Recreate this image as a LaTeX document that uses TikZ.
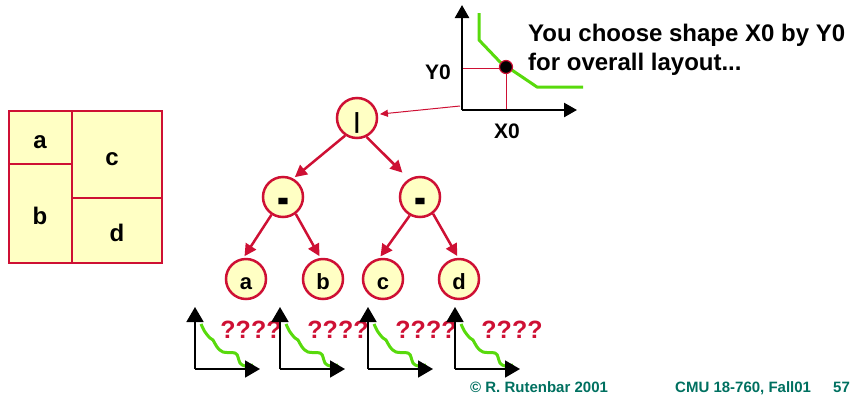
\documentclass[tikz,border=0pt]{standalone}
\usepackage{fontspec}
\setmainfont{Liberation Sans}
\usetikzlibrary{arrows.meta}
\definecolor{cred}{RGB}{206,16,52}
\definecolor{cyellow}{RGB}{255,255,196}
\definecolor{cgreen}{RGB}{88,218,12}
\definecolor{cteal}{RGB}{0,112,96}
\tikzset{
  tnode/.style={circle, draw=cred, fill=cyellow, line width=2.5pt, minimum size=40pt, inner sep=0pt,
    text height=21pt, text depth=0pt, font=\fontsize{22}{26}\selectfont\bfseries},
  dnode/.style={tnode, text height=37pt, font=\fontsize{30}{30}\selectfont\bfseries},
  rlbl/.style={font=\fontsize{24}{28}\selectfont\bfseries},
  axlbl/.style={font=\fontsize{21}{25}\selectfont\bfseries},
  bigtxt/.style={font=\fontsize{24}{29}\selectfont\bfseries, anchor=base west, inner sep=0pt},
  qlbl/.style={font=\fontsize{25}{29}\selectfont\bfseries, text=cred, inner sep=0pt},
  foot/.style={font=\fontsize{15}{18}\selectfont\bfseries, text=cteal, anchor=base west, inner sep=0pt},
  tarrow/.style={draw=cred, line width=2.5pt, -{Triangle[length=12pt,width=12pt]}},
  bigax/.style={line width=2.5pt, -{Triangle[length=13pt,width=14pt]}},
  smallax/.style={line width=1.8pt, -{Triangle[length=15pt,width=17pt]}},
  gcurve/.style={draw=cgreen, line width=3pt, line join=round},
}
\begin{document}
\begin{tikzpicture}[x=1pt,y=-1pt]
\useasboundingbox (0,0) rectangle (851,397);

% left floorplan
\fill[cyellow] (9,111) rectangle (162,263);
\draw[cred, line width=2.5pt] (9,111) rectangle (162,263);
\draw[cred, line width=2.5pt] (72,111) -- (72,263) (9,164) -- (72,164) (72,198) -- (162,198);
\node[rlbl] (ra) at (40,142) {a};
\node[rlbl] (rb) at (40,216) {b};
\node[rlbl] (rc) at (112,159) {c};
\node[rlbl] (rd) at (117,233) {d};

% tree
\node[tnode] (root) at (357,118) {|};
\node[dnode] (lm) at (283,197) {\scalebox{1.2}[1.8]{-}};
\node[dnode] (rm) at (420,197) {\scalebox{1.2}[1.8]{-}};
\node[tnode] (a) at (246,279) {a};
\node[tnode] (b) at (323,279) {b};
\node[tnode] (c) at (383,279) {c};
\node[tnode] (d) at (459,279) {d};

\draw[tarrow, shorten >=2pt] (root.236) -- (lm.61);
\draw[tarrow, shorten >=9pt] (root.297) -- (rm.122);
\draw[tarrow, shorten >=2pt] (lm.237) -- (a.97);
\draw[tarrow, shorten >=2pt] (lm.307) -- (b.97);
\draw[tarrow, shorten >=2pt] (rm.241) -- (c.100);
\draw[tarrow, shorten >=2pt] (rm.308) -- (d.92);

% top-right shape curve
\coordinate (O) at (462,110);
\coordinate (ytop) at (462,5);
\coordinate (xend) at (577,110);
\draw[gcurve] (479,13) -- (479,40) -- (500,62) -- (537,87) -- (583,87);
\draw[cred, line width=1pt] (462,68) -- (506,68) -- (506,110);
\draw[bigax] (O) -- (ytop);
\draw[bigax] (O) -- (xend);
\node[circle, fill=black, draw=cred, line width=1.2pt, minimum size=13pt, inner sep=0pt] (pt) at (506,67) {};
\node[axlbl] (y0) at (438,72) {Y0};
\node[axlbl] (x0) at (507,131) {X0};
\coordinate (from) at (460,106);
\draw[cred, line width=1pt, -{Triangle[length=8pt,width=7pt]}, shorten >=2pt] (from) -- (root.10);

\node[bigtxt] (t1) at (528,41) {You choose shape X0 by Y0};
\node[bigtxt] (t2) at (528,70) {for overall layout...};

% question marks
\node[qlbl] (q1) at (251,330) {????};
\node[qlbl] (q2) at (338,330) {????};
\node[qlbl] (q3) at (426,330) {????};
\node[qlbl] (q4) at (512,330) {????};

% small shape curves
\foreach \gx/\nm in {195/g1,280/g2,368/g3,455/g4}{
  \begin{scope}[shift={(\gx,369)}]
    \coordinate (\nm o) at (0,0);
    \draw[gcurve] plot[smooth, tension=0.6] coordinates {(6,-45) (10,-37) (15,-31) (18,-29) (22,-22) (28,-17) (40,-16) (43,-12) (45,-6) (50,-3) (58,-4)};
    \draw[smallax] (\nm o) -- (0,-62);
    \draw[smallax] (\nm o) -- (65,0);
  \end{scope}
}

% footer
\node[foot] (f1) at (470,392) {© R. Rutenbar 2001};
\node[foot] (f2) at (675,392) {CMU 18-760, Fall01};
\node[foot] (f3) at (833,392) {57};
\end{tikzpicture}
\end{document}
